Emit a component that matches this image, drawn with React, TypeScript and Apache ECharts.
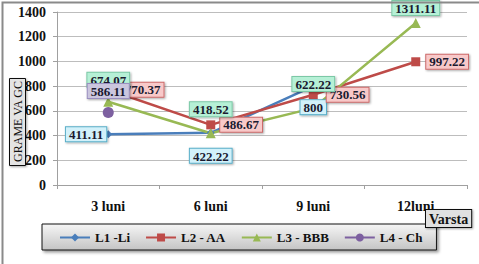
import React, { useEffect, useRef } from "react";
import * as echarts from "echarts";

const categories = ["3 luni", "6 luni", "9 luni", "12luni"];
const yTicks = [0, 200, 400, 600, 800, 1000, 1200, 1400];
const seriesNames = ["L1 -Li", "L2 - AA", "L3 - BBB", "L4 - Ch"];
const l1Values: (number | null)[] = [411.11, 422.22, 800, null];
const l2Values: (number | null)[] = [770.37, 486.67, 730.56, 997.22];
const l3Values: (number | null)[] = [674.07, 418.52, 622.22, 1311.11];
const l4Values: (number | null)[] = [586.11, null, null, null];

const FONT = "Times New Roman, Liberation Serif, DejaVu Serif, serif";

export default function App() {
  const ref = useRef<HTMLDivElement>(null);
  useEffect(() => {
    if (!ref.current) return;
    const chart = echarts.init(ref.current, undefined, { renderer: "svg" });

    const lbl = (bg: string, border: string) => ({
      show: true,
      fontFamily: FONT,
      fontWeight: "bold" as const,
      fontSize: 13,
      color: "#1a1a30",
      backgroundColor: bg,
      borderColor: border,
      borderWidth: 1,
      padding: [1, 3, 0, 3],
      shadowColor: "rgba(0,0,0,0.35)",
      shadowBlur: 2,
      shadowOffsetX: 1,
      shadowOffsetY: 1,
      formatter: (p: any) => String(p.value),
    });

    const withPos = (vals: (number | null)[], pos: string[], dist: number[]) =>
      vals.map((v, i) =>
        v == null ? null : { value: v, label: { position: pos[i], distance: dist[i] } }
      );

    chart.setOption({
      animation: false,
      backgroundColor: "#ffffff",
      textStyle: { fontFamily: FONT },
      grid: { left: 57, right: 12, top: 12, bottom: 79, containLabel: false },
      xAxis: {
        type: "category",
        data: categories,
        boundaryGap: true,
        axisLine: { lineStyle: { color: "#a0a0a0", width: 1 } },
        axisTick: { show: true, length: 4, lineStyle: { color: "#a0a0a0" } },
        axisLabel: {
          fontFamily: FONT,
          fontWeight: "bold",
          fontSize: 14,
          color: "#111",
          margin: 14,
        },
      },
      yAxis: {
        type: "value",
        min: yTicks[0],
        max: yTicks[yTicks.length - 1],
        interval: 200,
        axisLine: { show: true, lineStyle: { color: "#a0a0a0" } },
        axisTick: { show: true, length: 4, lineStyle: { color: "#a0a0a0" } },
        splitLine: { lineStyle: { color: "#bdbdbd", width: 1 } },
        axisLabel: {
          fontFamily: FONT,
          fontWeight: "bold",
          fontSize: 14,
          color: "#111",
          margin: 11,
          formatter: (v: number) => String(v),
        },
      },
      legend: {
        left: 42,
        top: 224,
        data: seriesNames,
        itemWidth: 30,
        itemHeight: 10,
        itemGap: 15,
        padding: [7, 14, 6, 17],
        borderColor: "#111",
        borderWidth: 1,
        backgroundColor: new echarts.graphic.LinearGradient(0, 0, 0, 1, [
          { offset: 0, color: "#f6f6f6" },
          { offset: 1, color: "#c4c4c4" },
        ]),
        shadowColor: "rgba(0,0,0,0.4)",
        shadowBlur: 3,
        shadowOffsetX: 2,
        shadowOffsetY: 2,
        textStyle: { fontFamily: FONT, fontWeight: "bold", fontSize: 13, color: "#111" },
      },
      series: [
        {
          name: seriesNames[0],
          type: "line",
          data: withPos(l1Values, ["left", "bottom", "bottom", "bottom"], [-2, 12, 10, 10]),
          color: "#4a7ebb",
          lineStyle: { width: 2.5, color: "#4a7ebb" },
          symbol: "diamond",
          symbolSize: 8,
          connectNulls: false,
          label: lbl("#d2f1fa", "#5aaec8"),
        },
        {
          name: seriesNames[1],
          type: "line",
          data: withPos(l2Values, ["right", "right", "right", "right"], [9, 5, 9, 6]),
          color: "#be4b48",
          lineStyle: { width: 2.5, color: "#be4b48" },
          symbol: "rect",
          symbolSize: 9,
          label: lbl("#f8c9c9", "#cc6a6a"),
        },
        {
          name: seriesNames[2],
          type: "line",
          data: withPos(l3Values, ["top", "top", "top", "top"], [10, 12, 12, 3]),
          color: "#98b954",
          lineStyle: { width: 2.5, color: "#98b954" },
          symbol: "triangle",
          symbolSize: 10,
          label: lbl("#b6f0d6", "#7cc8a6"),
        },
        {
          name: seriesNames[3],
          type: "line",
          data: withPos(l4Values, ["top", "top", "top", "top"], [9, 9, 9, 9]),
          color: "#7d60a0",
          lineStyle: { width: 2.5, color: "#7d60a0" },
          symbol: "circle",
          symbolSize: 11,
          label: lbl("#cbc6de", "#9a8fc0"),
        },
      ],
      graphic: [
        {
          type: "rect",
          left: 0,
          top: 0,
          shape: { width: 478, height: 263 },
          style: { fill: "none", stroke: "#8a8a8a", lineWidth: 2 },
          silent: true,
          z: 100,
        },
        {
          type: "rect",
          left: 9,
          top: 78,
          shape: { width: 16, height: 87 },
          style: {
            fill: "#e4e4e4",
            stroke: "#111",
            lineWidth: 1,
            shadowColor: "rgba(0,0,0,0.35)",
            shadowBlur: 2,
            shadowOffsetX: 1,
            shadowOffsetY: 1,
          },
          z: 50,
        },
        {
          type: "text",
          x: 17.5,
          y: 121.5,
          rotation: Math.PI / 2,
          style: {
            text: "GRAME VA GC",
            fontFamily: FONT,
            fontSize: 12,
            fontWeight: "normal",
            fill: "#111",
            align: "center",
            verticalAlign: "middle",
          },
          z: 51,
        },
        {
          type: "text",
          left: 425,
          top: 209,
          style: {
            text: "Varsta",
            fontFamily: FONT,
            fontSize: 14,
            fontWeight: "bold",
            fill: "#111",
            backgroundColor: "#e0e0e0",
            borderColor: "#111",
            borderWidth: 1,
            padding: [2, 3, 1, 3],
            shadowColor: "rgba(0,0,0,0.35)",
            shadowBlur: 2,
            shadowOffsetX: 1,
            shadowOffsetY: 1,
          },
          z: 50,
        },
      ],
    });
    return () => chart.dispose();
  }, []);
  return <div ref={ref} style={{ width: 479, height: 264, position: "absolute", left: 0, top: 0 }} />;
}
